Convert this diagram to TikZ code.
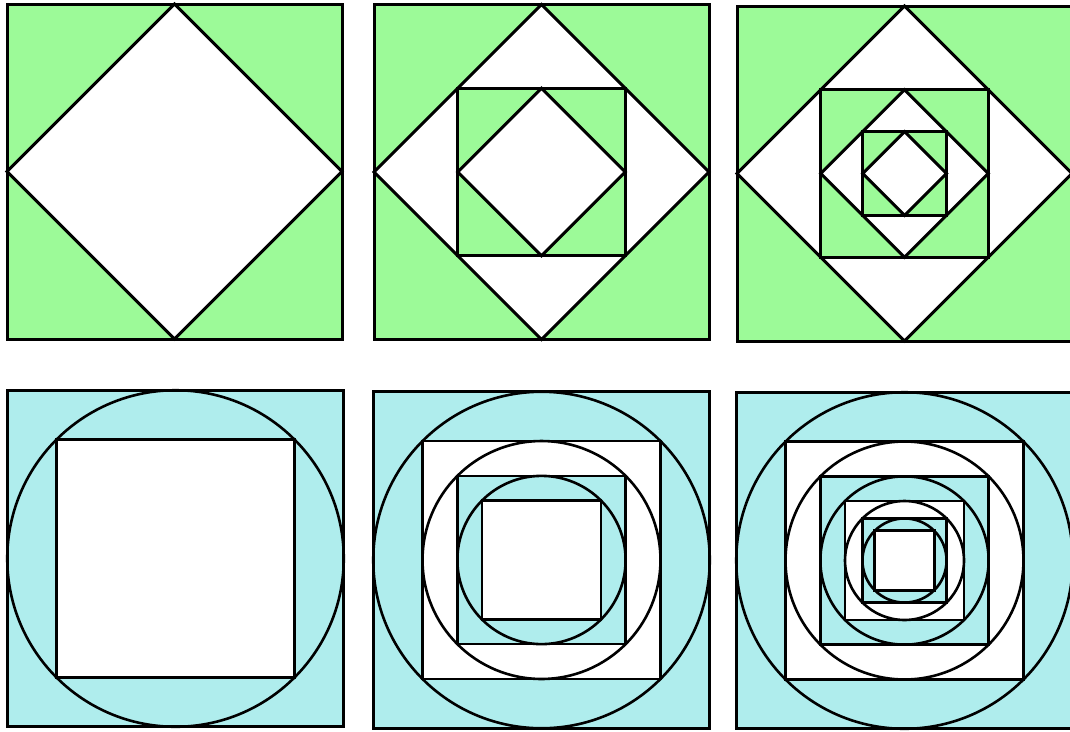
\documentclass[tikz,border=0pt]{standalone}
\usepackage{xcolor}
\usepackage{tikz}
\definecolor{panelgreen}{HTML}{9CFA98}
\definecolor{panelcyan}{HTML}{AFEDED}
\tikzset{
    sqline/.style={line width=3pt, line join=miter},
    ringline/.style={line width=2.6pt}
}

\begin{document}
\begin{tikzpicture}[x=1pt, y=-1pt]
    \clip (0,0) rectangle (1070,731);
    % top row: squares and diamonds
    \foreach \cx/\cy/\n in {174.5/171.5/1, 541.5/172/2, 904.5/173.5/3} {
        \foreach \k in {1,...,\n} {
            \pgfmathsetmacro{\h}{167.5/2^(\k-1)}
            \filldraw[sqline, fill=panelgreen] ({\cx-\h},{\cy-\h}) rectangle ({\cx+\h},{\cy+\h});
            \filldraw[sqline, fill=white] (\cx,{\cy-\h}) -- ({\cx+\h},\cy) -- (\cx,{\cy+\h}) -- ({\cx-\h},\cy) -- cycle;
        }
    }
    % bottom row: squares and circles
    \foreach \cx/\cy/\n in {175.5/558.5/2, 541.5/560/4, 904.5/560.5/6} {
        \foreach \k in {1,...,\n} {
            \pgfmathsetmacro{\h}{168.25/2^((\k-1)/2)}
            \ifodd\k \def\fc{panelcyan}\else \def\fc{white}\fi
            \filldraw[ringline, fill=\fc] ({\cx-\h},{\cy-\h}) rectangle ({\cx+\h},{\cy+\h});
        }
        \foreach \k in {1,...,\n} {
            \pgfmathsetmacro{\h}{168.25/2^((\k-1)/2)}
            \ifnum\k<\n \draw[ringline] (\cx,\cy) circle (\h); \fi
        }
    }
\end{tikzpicture}
\end{document}
